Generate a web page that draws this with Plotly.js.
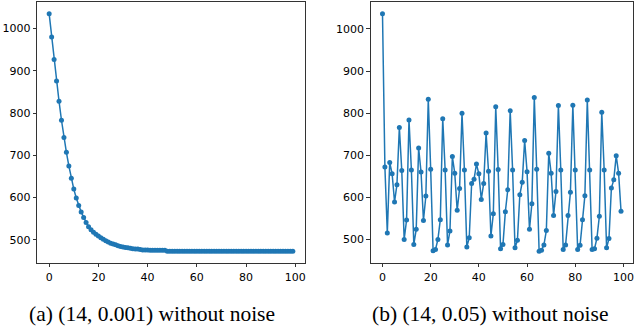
<!DOCTYPE html>
<html>
<head>
<meta charset="utf-8">
<script src="https://cdn.plot.ly/plotly-3.0.1.min.js"></script>
<style>
  html, body { margin: 0; padding: 0; background: #fff; }
  #chart { width: 640px; height: 328px; }
</style>
</head>
<body>
<div id="chart"></div>
<script>
// iteration index 0..99
let steps = [];
for (let i = 0; i < 100; i++) steps.push(i);

// (a) (14, 0.001) without noise
let lossA = [
  1035, 980, 927, 876, 828, 783, 742, 707, 675, 646,
  620, 599, 581, 566, 553, 541, 531, 524, 518, 513,
  509, 505, 501, 498, 495, 492, 490, 488, 486, 484,
  483, 482, 481, 480, 479, 478, 478, 477, 476, 476,
  476, 475, 475, 475, 475, 475, 475, 475, 473, 473,
  473, 473, 473, 473, 473, 473, 473, 473, 473, 473,
  473, 473, 473, 473, 473, 473, 473, 473, 473, 473,
  473, 473, 473, 473, 473, 473, 473, 473, 473, 473,
  473, 473, 473, 473, 473, 473, 473, 473, 473, 473,
  473, 473, 473, 473, 473, 473, 473, 473, 473, 473
];

// (b) (14, 0.05) without noise
let lossB = [
  1036, 672, 515, 683, 656, 589, 630, 766, 664, 500,
  546, 784, 665, 488, 524, 717, 660, 545, 603, 833,
  667, 473, 476, 500, 547, 787, 665, 487, 520, 697,
  657, 569, 621, 800, 665, 482, 504, 633, 643, 679,
  656, 595, 633, 753, 662, 508, 561, 815, 666, 478,
  488, 566, 618, 806, 665, 480, 498, 606, 636, 735,
  661, 524, 585, 837, 667, 472, 474, 487, 521, 705,
  657, 557, 614, 818, 665, 476, 487, 557, 612, 819,
  665, 476, 486, 547, 604, 831, 665, 476, 478, 503,
  555, 802, 665, 480, 502, 622, 642, 699, 657, 567
];

let xTicks = [0, 20, 40, 60, 80, 100];
let yTicks = [500, 600, 700, 800, 900, 1000];
let captions = ["(a) (14, 0.001) without noise", "(b) (14, 0.05) without noise"];

let blue = "#1f77b4";

function series(y, xa, ya) {
  return {
    type: "scatter",
    mode: "lines+markers",
    x: steps,
    y: y,
    xaxis: xa,
    yaxis: ya,
    line: { color: blue, width: 1.5 },
    marker: { color: blue, size: 5 },
    showlegend: false
  };
}

function xAxis(domain, anchor) {
  return {
    domain: domain,
    anchor: anchor,
    range: [-4.95, 103.95],
    tickvals: xTicks,
    ticks: "outside",
    ticklen: 3.5,
    tickwidth: 0.8,
    tickcolor: "#000",
    showgrid: false,
    zeroline: false,
    showline: true,
    mirror: true,
    linecolor: "#000",
    linewidth: 0.8,
    tickfont: { family: "DejaVu Sans", size: 11, color: "#000" }
  };
}

function yAxis(anchor, range) {
  return {
    domain: [0.198, 0.994],
    anchor: anchor,
    range: range,
    tickvals: yTicks,
    ticks: "outside",
    ticklen: 3.5,
    tickwidth: 0.8,
    tickcolor: "#000",
    showgrid: false,
    zeroline: false,
    showline: true,
    mirror: true,
    linecolor: "#000",
    linewidth: 0.8,
    tickfont: { family: "DejaVu Sans", size: 11, color: "#000" }
  };
}

let data = [series(lossA, "x", "y"), series(lossB, "x2", "y2")];

let layout = {
  width: 640,
  height: 328,
  margin: { l: 0, r: 0, t: 0, b: 0 },
  paper_bgcolor: "#fff",
  plot_bgcolor: "#fff",
  xaxis: xAxis([0.0578, 0.4766], "y"),
  yaxis: yAxis("x", [444.9, 1063.1]),
  xaxis2: xAxis([0.579, 0.989], "y2"),
  yaxis2: yAxis("x2", [443.8, 1064.2]),
  annotations: [
    {
      text: captions[0], xref: "paper", yref: "paper", x: 0.2375, y: 0.042,
      xanchor: "center", yanchor: "middle", showarrow: false,
      font: { family: "Liberation Serif", size: 21.5, color: "#000" }
    },
    {
      text: captions[1], xref: "paper", yref: "paper", x: 0.766, y: 0.042,
      xanchor: "center", yanchor: "middle", showarrow: false,
      font: { family: "Liberation Serif", size: 21.5, color: "#000" }
    }
  ]
};

Plotly.newPlot("chart", data, layout, { displayModeBar: false, staticPlot: true });
</script>
</body>
</html>
